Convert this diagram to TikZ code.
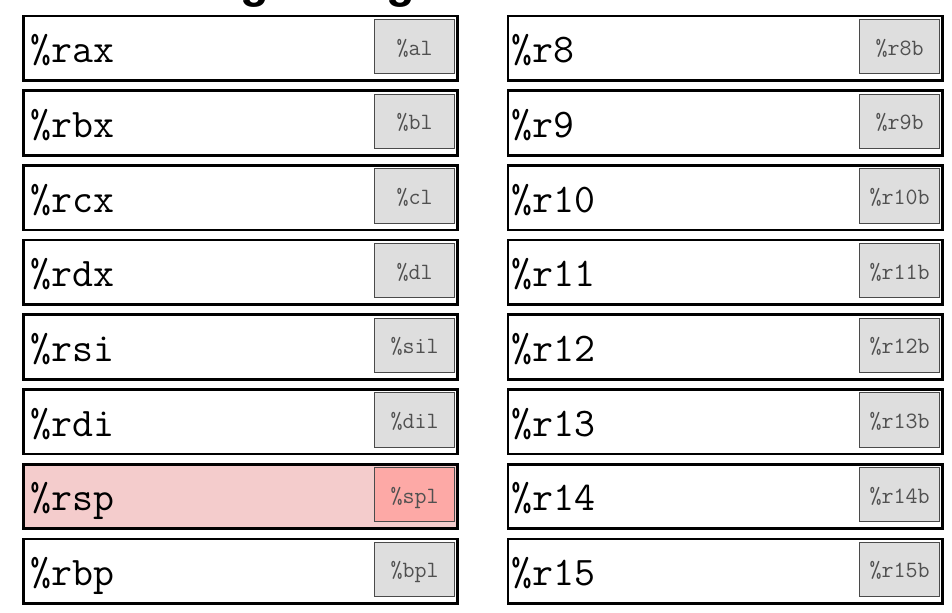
\documentclass[tikz,border=0pt]{standalone}
\usepackage{fontspec}
\usetikzlibrary{calc}
\newfontfamily\titlefont{Liberation Sans}
\definecolor{subgray}{HTML}{DEDEDE}
\definecolor{subline}{HTML}{4A4A4A}
\definecolor{subtext}{HTML}{505050}
\definecolor{spfill}{HTML}{F4CCCC}
\definecolor{spsub}{HTML}{FDA9A6}
\tikzset{
  regbox/.style={draw=black, line width=2pt, rectangle, inner sep=0pt,
    minimum width=325.7pt, minimum height=48.45pt, anchor=north west},
  subbox/.style={draw=subline, line width=0.75pt, rectangle, inner sep=0pt,
    minimum width=59.5pt, minimum height=40.7pt, anchor=north east},
  bigtext/.style={font=\ttfamily\fontsize{30.5}{34}\selectfont, anchor=base west, inner sep=0pt},
  smalltext/.style={font=\ttfamily\fontsize{17.5}{20}\selectfont, text=subtext, anchor=base, inner sep=0pt},
  titletext/.style={font=\titlefont\bfseries\fontsize{35.2}{40}\selectfont, anchor=base west, inner sep=0pt}
}
\begin{document}
\begin{tikzpicture}[x=0.75pt,y=-0.75pt]
\useasboundingbox (0,0) rectangle (952,612);
\begin{scope}
  \clip (0,0) rectangle (952,612);
  \node[titletext] (title) at (-2,-2.9) {x86-64 Integer Registers};
\end{scope}
% left column
\foreach \n/\s/\f/\g [count=\i from 0] in {
  rax/al/white/subgray, rbx/bl/white/subgray, rcx/cl/white/subgray,
  rdx/dl/white/subgray, rsi/sil/white/subgray, rdi/dil/white/subgray,
  rsp/spl/spfill/spsub, rbp/bpl/white/subgray}{
  \pgfmathsetmacro\yt{14.8+\i*74.67}
  \node[regbox, fill=\f] (\n) at (22,\yt) {};
  \node[subbox, fill=\g] (\s) at (454.7,\yt+4.2) {};
  \node[bigtext] (\n text) at (30,\yt+47.9) {\%\n};
  \node[smalltext] (\s text) at ($(\s.north)+(0,36)$) {\%\s};
}
% right column
\foreach \n [count=\i from 0] in {8,9,10,11,12,13,14,15}{
  \pgfmathsetmacro\yt{14.8+\i*74.67}
  \node[regbox, fill=white] (r\n) at (506.7,\yt) {};
  \node[subbox, fill=subgray] (r\n b) at (939.8,\yt+4.2) {};
  \node[bigtext] (r\n text) at (511.5,\yt+47.9) {\%r\n};
  \node[smalltext] (r\n btext) at ($(r\n b.north)+(0,36)$) {\%r\n b};
}
\end{tikzpicture}
\end{document}
